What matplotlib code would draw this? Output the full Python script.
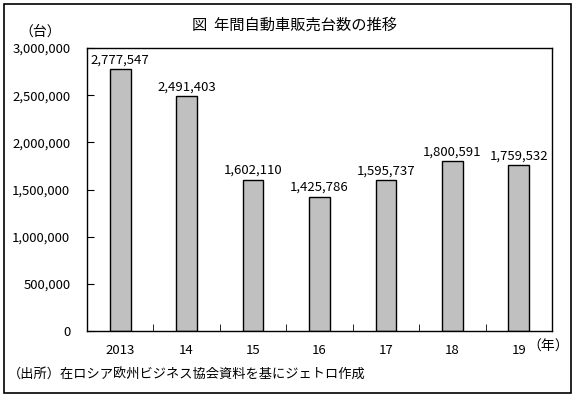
import numpy as np
import matplotlib.pyplot as plt
from matplotlib.patches import Rectangle
from matplotlib.ticker import FuncFormatter

plt.rcParams['font.family'] = ['Noto Sans CJK JP', 'DejaVu Sans']

years = ['2013', '14', '15', '16', '17', '18', '19']
sales = [2777547, 2491403, 1602110, 1425786, 1595737, 1800591, 1759532]

fig = plt.figure(figsize=(5.74, 3.97), dpi=100)
W, H = 574, 397
ax = fig.add_axes([87 / W, 1 - 331 / H, (552 - 87) / W, (331 - 48) / H])

x = np.arange(len(years))
ax.bar(x, sales, width=0.31, color='#c0c0c0', edgecolor='black', linewidth=1)
for xi, v in zip(x, sales):
    ax.annotate(f'{v:,}', (xi, v), xytext=(0, 2), textcoords='offset points',
                ha='center', va='bottom', fontsize=9.5)

ax.set_xlim(-0.5, len(years) - 0.5)
ax.set_ylim(0, 3000000)
ax.set_yticks(np.arange(0, 3000001, 500000))
ax.yaxis.set_major_formatter(FuncFormatter(lambda v, p: f'{int(v):,}'))
ax.set_xticks(x)
ax.set_xticklabels(years)
ax.set_xticks(np.arange(0.5, len(years) - 1), minor=True)
ax.tick_params(axis='x', which='major', length=0, pad=9, labelsize=9.5)
ax.tick_params(axis='x', which='minor', direction='in', length=5)
ax.tick_params(axis='y', direction='in', length=5, pad=12, labelsize=9.5)
for s in ax.spines.values():
    s.set_linewidth(1)

fig.text(294 / W, 1 - 25 / H, '図  年間自動車販売台数の推移', ha='center', va='center', fontsize=11)
fig.text(40 / W, 1 - 32 / H, '（台）', ha='center', va='center', fontsize=10)
fig.text(548 / W, 1 - 347 / H, '（年）', ha='center', va='center', fontsize=10)
fig.text(8 / W, 1 - 375 / H, '（出所）在ロシア欧州ビジネス協会資料を基にジェトロ作成',
         ha='left', va='center', fontsize=9.5)

fig.patches.append(Rectangle((4 / W, 4 / H), (571 - 4) / W, (393 - 4) / H,
                             transform=fig.transFigure, fill=False,
                             edgecolor='black', linewidth=1.2))

fig.savefig('out.png', dpi=100)
